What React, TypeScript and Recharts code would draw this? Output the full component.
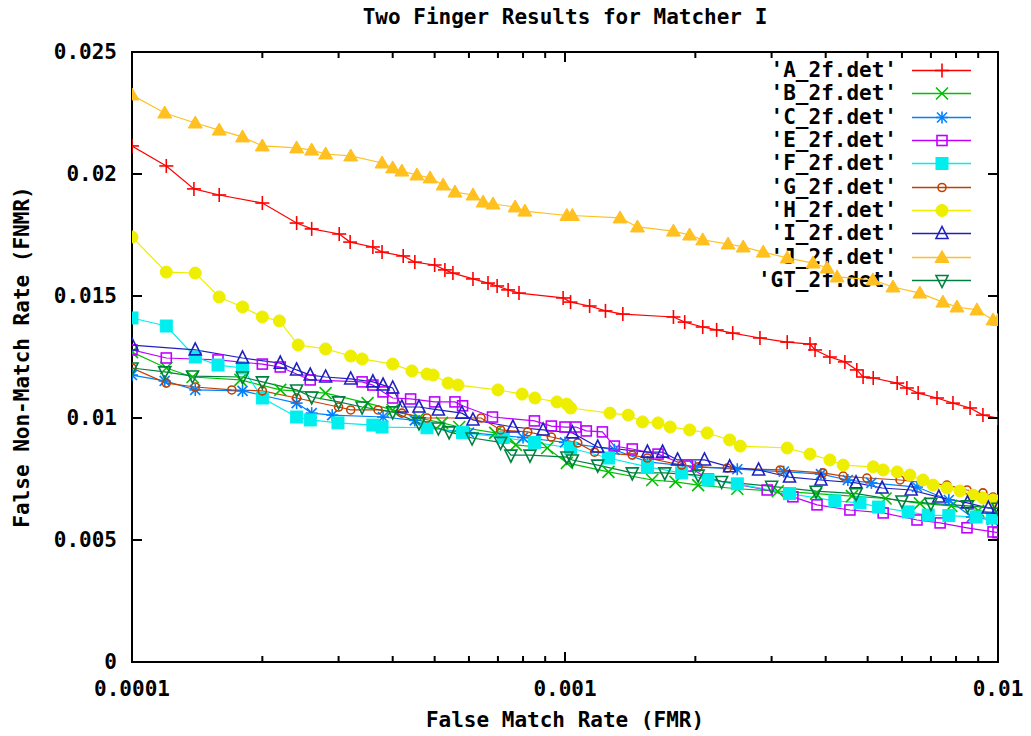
import React from 'react';
import { LineChart, Line, XAxis, YAxis, Legend, Label, ReferenceArea } from 'recharts';

const FONT = '"DejaVu Sans Mono", "Liberation Mono", monospace';

const TITLE = 'Two Finger Results for Matcher I';
const X_LABEL = 'False Match Rate (FMR)';
const Y_LABEL = 'False Non-Match Rate (FNMR)';

const X_DOMAIN: [number, number] = [0.0001, 0.01];
const Y_DOMAIN: [number, number] = [0, 0.025];
const X_MAJOR_TICKS = [0.0001, 0.001, 0.01];
const X_MINOR_TICKS = [
  0.0002, 0.0003, 0.0004, 0.0005, 0.0006, 0.0007, 0.0008, 0.0009,
  0.002, 0.003, 0.004, 0.005, 0.006, 0.007, 0.008, 0.009,
];
const Y_TICKS = [0, 0.005, 0.01, 0.015, 0.02, 0.025];

// [FMR, FNMR]
const A_2F: [number, number][] = [
  [0.0001, 0.02115], [0.00012, 0.02033], [0.000139, 0.01939], [0.000159, 0.01914],
  [0.0002, 0.01881], [0.00024, 0.01799], [0.00026, 0.01775], [0.000301, 0.01754],
  [0.000319, 0.01721], [0.00036, 0.01701], [0.000378, 0.0168], [0.000423, 0.01664],
  [0.00045, 0.01639], [0.0005, 0.01627], [0.000528, 0.01607], [0.000551, 0.01594],
  [0.000613, 0.0157], [0.000664, 0.01553], [0.000697, 0.01541], [0.000739, 0.01525],
  [0.000783, 0.01512], [0.00099, 0.01492], [0.00103, 0.01475], [0.00114, 0.01459],
  [0.00124, 0.01439], [0.00136, 0.01426], [0.00178, 0.01414], [0.00189, 0.01393],
  [0.00208, 0.01373], [0.00224, 0.01361], [0.00244, 0.01348], [0.00282, 0.01328],
  [0.00326, 0.01311], [0.00368, 0.01303], [0.00378, 0.01279], [0.00409, 0.0125],
  [0.00443, 0.0123], [0.00472, 0.01197], [0.00488, 0.01168], [0.00515, 0.01164],
  [0.00585, 0.01143], [0.00616, 0.01123], [0.00654, 0.01102], [0.00723, 0.01082],
  [0.00787, 0.01061], [0.00862, 0.01041], [0.00923, 0.01012], [0.01, 0.01],
];

const B_2F: [number, number][] = [
  [0.0001, 0.0127], [0.00012, 0.01205], [0.000138, 0.01168], [0.000178, 0.01156],
  [0.00022, 0.01115], [0.00028, 0.01102], [0.00035, 0.01061], [0.0004, 0.01033],
  [0.00046, 0.01], [0.00052, 0.0098], [0.00057, 0.00963], [0.00069, 0.00939],
  [0.00077, 0.0089], [0.00091, 0.00877], [0.00101, 0.00816], [0.00126, 0.00779],
  [0.00159, 0.00746], [0.0018, 0.00738], [0.00203, 0.00725], [0.0025, 0.0071],
  [0.0031, 0.007], [0.0038, 0.0069], [0.0046, 0.0068], [0.0055, 0.0067],
  [0.0066, 0.0065], [0.0078, 0.0064], [0.009, 0.0062], [0.01, 0.0061],
];

const C_2F: [number, number][] = [
  [0.0001, 0.01176], [0.000119, 0.01152], [0.00014, 0.01115], [0.00018, 0.01111],
  [0.00024, 0.01061], [0.00026, 0.0102], [0.00029, 0.01012], [0.00038, 0.01004],
  [0.00045, 0.0099], [0.00048, 0.0096], [0.0006, 0.0094], [0.0008, 0.0092],
  [0.001, 0.009], [0.0013, 0.0087], [0.00155, 0.0082], [0.002, 0.008],
  [0.0025, 0.0079], [0.0032, 0.0078], [0.0039, 0.0077], [0.0045, 0.00746],
  [0.0051, 0.00734], [0.0065, 0.00717], [0.0077, 0.00664], [0.0087, 0.00594],
  [0.0097, 0.00582],
];

const E_2F: [number, number][] = [
  [0.0001, 0.01279], [0.00012, 0.01246], [0.000158, 0.01238], [0.0002, 0.01221],
  [0.00022, 0.01209], [0.000258, 0.01156], [0.00034, 0.01148], [0.00036, 0.01135],
  [0.00038, 0.01107], [0.0004, 0.01082], [0.00044, 0.01078], [0.0005, 0.01066],
  [0.000557, 0.01066], [0.00058, 0.0105], [0.00068, 0.01004], [0.00085, 0.00988],
  [0.00093, 0.00967], [0.001, 0.00963], [0.00106, 0.00963], [0.00112, 0.00947],
  [0.00122, 0.00943], [0.0013, 0.00885], [0.00143, 0.00873], [0.00164, 0.00852],
  [0.00192, 0.00803], [0.00214, 0.0075], [0.00293, 0.00705], [0.00336, 0.00677],
  [0.00382, 0.00644], [0.00455, 0.00623], [0.00543, 0.00611], [0.0065, 0.00582],
  [0.00735, 0.0057], [0.00848, 0.0055], [0.00974, 0.00533], [0.01, 0.0053],
];

const F_2F: [number, number][] = [
  [0.0001, 0.0141], [0.00012, 0.01377], [0.00014, 0.0125], [0.000158, 0.01217],
  [0.00018, 0.01205], [0.0002, 0.01082], [0.00024, 0.01004], [0.000258, 0.00992],
  [0.000299, 0.0098], [0.00036, 0.00971], [0.000378, 0.00963], [0.00048, 0.0096],
  [0.00058, 0.0094], [0.00072, 0.0092], [0.00085, 0.009], [0.00103, 0.00877],
  [0.00126, 0.00836], [0.00155, 0.008], [0.00186, 0.00775], [0.00214, 0.00746],
  [0.0025, 0.0073], [0.0033, 0.0069], [0.0042, 0.0066], [0.0048, 0.00652],
  [0.0053, 0.00635], [0.0062, 0.00615], [0.0069, 0.00602], [0.0077, 0.006],
  [0.0089, 0.00594], [0.0097, 0.0059],
];

const G_2F: [number, number][] = [
  [0.0001, 0.01205], [0.00012, 0.01143], [0.00014, 0.01127], [0.00017, 0.01115],
  [0.0002, 0.01111], [0.00024, 0.01082], [0.0003, 0.01045], [0.00032, 0.01033],
  [0.00037, 0.01033], [0.00042, 0.0102], [0.00048, 0.01], [0.00064, 0.01],
  [0.00071, 0.00951], [0.00082, 0.00943], [0.00093, 0.00922], [0.00107, 0.00898],
  [0.00117, 0.0086], [0.00143, 0.00848], [0.00155, 0.00836], [0.00186, 0.00807],
  [0.00203, 0.008], [0.00237, 0.00795], [0.00314, 0.00787], [0.00394, 0.00775],
  [0.00439, 0.00762], [0.00498, 0.00754], [0.00594, 0.00746], [0.00762, 0.00725],
  [0.00848, 0.00705], [0.00923, 0.00693], [0.00974, 0.00676],
];

const H_2F: [number, number][] = [
  [0.0001, 0.01742], [0.00012, 0.01598], [0.00014, 0.01594], [0.000159, 0.01496],
  [0.00018, 0.01455], [0.0002, 0.01414], [0.000219, 0.01398], [0.000242, 0.01299],
  [0.00028, 0.01283], [0.00032, 0.01254], [0.00034, 0.01242], [0.0004, 0.01221],
  [0.000443, 0.01193], [0.00048, 0.0118], [0.000496, 0.01176], [0.000537, 0.01143],
  [0.000566, 0.01135], [0.0007, 0.01115], [0.000796, 0.01098], [0.000852, 0.01082],
  [0.000958, 0.01066], [0.00101, 0.01057], [0.00103, 0.01041], [0.00127, 0.0102],
  [0.0014, 0.01012], [0.00151, 0.00984], [0.00164, 0.0098], [0.00175, 0.00963],
  [0.00194, 0.00951], [0.00213, 0.00939], [0.0024, 0.0091], [0.00254, 0.00885],
  [0.00326, 0.00877], [0.00368, 0.00852], [0.00409, 0.00828], [0.00439, 0.00807],
  [0.00515, 0.008], [0.00543, 0.00787], [0.00585, 0.00779], [0.00626, 0.00766],
  [0.00671, 0.00746], [0.00708, 0.00725], [0.00762, 0.00713], [0.00817, 0.00701],
  [0.00876, 0.00684], [0.00923, 0.00672], [0.00974, 0.00664], [0.01, 0.0066],
];

const I_2F: [number, number][] = [
  [0.0001, 0.01299], [0.00014, 0.01279], [0.00018, 0.01246], [0.00022, 0.01225],
  [0.00024, 0.01197], [0.000258, 0.01176], [0.00028, 0.01168], [0.00032, 0.0116],
  [0.00036, 0.01148], [0.00038, 0.01135], [0.0004, 0.01123], [0.00042, 0.01045],
  [0.00046, 0.01045], [0.00051, 0.01033], [0.000578, 0.0102], [0.000613, 0.00992],
  [0.000758, 0.00963], [0.00089, 0.00951], [0.00104, 0.00939], [0.00119, 0.00881],
  [0.00155, 0.0086], [0.00168, 0.0086], [0.00182, 0.00828], [0.0021, 0.00828],
  [0.0024, 0.008], [0.0028, 0.00787], [0.0033, 0.00758], [0.0039, 0.00746],
  [0.0047, 0.00734], [0.0054, 0.00713], [0.0063, 0.00705], [0.0073, 0.00676],
  [0.0085, 0.00652], [0.0095, 0.00631], [0.01, 0.0063],
];

const J_2F: [number, number][] = [
  [0.0001, 0.02324], [0.000119, 0.0225], [0.00014, 0.02209], [0.000159, 0.0218],
  [0.00018, 0.02152], [0.0002, 0.02115], [0.00024, 0.02107], [0.00026, 0.02098],
  [0.00028, 0.02082], [0.00032, 0.02074], [0.000378, 0.02045], [0.0004, 0.02025],
  [0.00042, 0.02012], [0.000455, 0.01996], [0.000488, 0.01984], [0.000523, 0.01955],
  [0.000557, 0.01926], [0.000613, 0.01914], [0.000647, 0.01885], [0.000682, 0.01877],
  [0.000767, 0.01865], [0.000808, 0.01848], [0.00101, 0.0183], [0.00104, 0.0183],
  [0.00134, 0.0182], [0.00147, 0.01783], [0.00178, 0.01766], [0.00194, 0.0175],
  [0.00208, 0.0173], [0.00238, 0.01713], [0.00258, 0.01701], [0.00287, 0.0168],
  [0.00326, 0.01656], [0.00374, 0.01635], [0.00403, 0.01615], [0.00425, 0.01578],
  [0.00514, 0.01566], [0.00572, 0.01537], [0.0066, 0.01512], [0.00746, 0.01475],
  [0.00804, 0.01455], [0.00894, 0.01443], [0.00974, 0.01402], [0.01, 0.014],
];

const GT_2F: [number, number][] = [
  [0.0001, 0.01205], [0.000119, 0.01189], [0.000138, 0.01172], [0.00018, 0.01168],
  [0.0002, 0.01148], [0.00024, 0.01115], [0.00026, 0.01086], [0.0003, 0.01066],
  [0.00034, 0.01045], [0.0004, 0.01025], [0.00046, 0.0098], [0.00051, 0.00959],
  [0.00054, 0.00943], [0.00061, 0.00918], [0.00071, 0.009], [0.00075, 0.00848],
  [0.00083, 0.00848], [0.00101, 0.0084], [0.00104, 0.00828], [0.00119, 0.00807],
  [0.00143, 0.00775], [0.0017, 0.00775], [0.00203, 0.00766], [0.0023, 0.0074],
  [0.003, 0.0072], [0.0038, 0.007], [0.0047, 0.0069], [0.006, 0.0066],
  [0.007, 0.0065], [0.0085, 0.0064], [0.01, 0.0063],
];

type MarkerKind = 'plus' | 'cross' | 'star' | 'box' | 'fbox' | 'circle' | 'fcircle' | 'tri' | 'ftri' | 'itri';

interface SeriesDef {
  id: string;
  name: string;
  color: string;
  marker: MarkerKind;
  points: [number, number][];
}

const SERIES: SeriesDef[] = [
  { id: 'A', name: "'A_2f.det'", color: '#ff0000', marker: 'plus', points: A_2F },
  { id: 'B', name: "'B_2f.det'", color: '#00c000', marker: 'cross', points: B_2F },
  { id: 'C', name: "'C_2f.det'", color: '#0080ff', marker: 'star', points: C_2F },
  { id: 'E', name: "'E_2f.det'", color: '#c000ff', marker: 'box', points: E_2F },
  { id: 'F', name: "'F_2f.det'", color: '#00eeee', marker: 'fbox', points: F_2F },
  { id: 'G', name: "'G_2f.det'", color: '#c04000', marker: 'circle', points: G_2F },
  { id: 'H', name: "'H_2f.det'", color: '#eeee00', marker: 'fcircle', points: H_2F },
  { id: 'I', name: "'I_2f.det'", color: '#2020c0', marker: 'tri', points: I_2F },
  { id: 'J', name: "'J_2f.det'", color: '#ffc020', marker: 'ftri', points: J_2F },
  { id: 'GT', name: "'GT_2f.det'", color: '#008040', marker: 'itri', points: GT_2F },
];

// chart layout (pixels)
const CHART_W = 1031;
const CHART_H = 736;
const MARGIN = { top: 52, right: 33, bottom: 0, left: 0 };
const Y_AXIS_W = 132;
const X_AXIS_H = 74;
const PLOT_W = CHART_W - MARGIN.left - MARGIN.right - Y_AXIS_W;
const PLOT_H = CHART_H - MARGIN.top - MARGIN.bottom - X_AXIS_H;
const MAJOR_LEN = 10;
const MINOR_LEN = 6;
const X_TICK_SIZE = 6;
const X_TICK_MARGIN = 13;
const Y_TICK_SIZE = 6;
const Y_TICK_MARGIN = 9;

function Marker({ kind, color, cx, cy }: { kind: MarkerKind; color: string; cx: number; cy: number }) {
  if (cx == null || cy == null || isNaN(cx) || isNaN(cy)) return null;
  const s = 6;
  const sw = 1.6;
  switch (kind) {
    case 'plus':
      return (
        <g stroke={color} strokeWidth={sw}>
          <line x1={cx - s - 1} y1={cy} x2={cx + s + 1} y2={cy} />
          <line x1={cx} y1={cy - s - 1} x2={cx} y2={cy + s + 1} />
        </g>
      );
    case 'cross':
      return (
        <g stroke={color} strokeWidth={sw}>
          <line x1={cx - s} y1={cy - s} x2={cx + s} y2={cy + s} />
          <line x1={cx - s} y1={cy + s} x2={cx + s} y2={cy - s} />
        </g>
      );
    case 'star':
      return (
        <g stroke={color} strokeWidth={sw}>
          <line x1={cx - s} y1={cy} x2={cx + s} y2={cy} />
          <line x1={cx} y1={cy - s} x2={cx} y2={cy + s} />
          <line x1={cx - s + 1} y1={cy - s + 1} x2={cx + s - 1} y2={cy + s - 1} />
          <line x1={cx - s + 1} y1={cy + s - 1} x2={cx + s - 1} y2={cy - s + 1} />
        </g>
      );
    case 'box':
      return <rect x={cx - 5} y={cy - 5} width={10} height={10} fill="none" stroke={color} strokeWidth={sw} />;
    case 'fbox':
      return <rect x={cx - 6} y={cy - 6} width={12} height={12} fill={color} stroke={color} strokeWidth={1} />;
    case 'circle':
      return <circle cx={cx} cy={cy} r={4} fill="none" stroke={color} strokeWidth={sw} />;
    case 'fcircle':
      return <circle cx={cx} cy={cy} r={6} fill={color} stroke={color} strokeWidth={1} />;
    case 'tri':
      return (
        <polygon
          points={`${cx},${cy - 7} ${cx - 6},${cy + 5} ${cx + 6},${cy + 5}`}
          fill="none"
          stroke={color}
          strokeWidth={sw}
        />
      );
    case 'ftri':
      return (
        <polygon
          points={`${cx},${cy - 7} ${cx - 7},${cy + 5} ${cx + 7},${cy + 5}`}
          fill={color}
          stroke={color}
          strokeWidth={1}
        />
      );
    case 'itri':
      return (
        <polygon
          points={`${cx},${cy + 7} ${cx - 6},${cy - 5} ${cx + 6},${cy - 5}`}
          fill="none"
          stroke={color}
          strokeWidth={sw}
        />
      );
    default:
      return null;
  }
}

function LegendBox() {
  return (
    <div style={{ fontFamily: FONT, fontWeight: 700, fontSize: 21, color: '#000' }}>
      {SERIES.map((s) => (
        <div key={s.id} style={{ display: 'flex', alignItems: 'center', height: 23.33 }}>
          <span style={{ width: 197, textAlign: 'right', whiteSpace: 'pre', lineHeight: '23px' }}>{s.name}</span>
          <svg width={74} height={23} style={{ display: 'block' }}>
            <line x1={15} y1={11.5} x2={74} y2={11.5} stroke={s.color} strokeWidth={1.4} />
            <Marker kind={s.marker} color={s.color} cx={45} cy={11.5} />
          </svg>
        </div>
      ))}
    </div>
  );
}

const labelFont = { fontFamily: FONT, fontWeight: 700, fontSize: 21 };
const isMajorX = (v: number) => X_MAJOR_TICKS.some((m) => Math.abs(m - v) < m * 1e-6);

// X tick: label (majors) plus inward tick marks on bottom and top edges
function XTick(props: any) {
  const { x, y, payload } = props;
  const v = payload?.value as number;
  const major = isMajorX(v);
  const len = major ? MAJOR_LEN : MINOR_LEN;
  const axisY = y - X_TICK_SIZE - X_TICK_MARGIN;
  const topY = axisY - PLOT_H;
  return (
    <g>
      <path d={`M${x},${axisY}V${axisY - len}M${x},${topY}V${topY + len}`} stroke="#000" strokeWidth={2} fill="none" />
      {major && (
        <text x={x} y={y} dy="0.71em" textAnchor="middle" fill="#000" stroke="none" style={labelFont}>
          {String(v)}
        </text>
      )}
    </g>
  );
}

// Y tick: label plus inward tick marks on left and right edges
function YTick(props: any) {
  const { x, y, payload } = props;
  const v = payload?.value as number;
  const axisX = x + Y_TICK_SIZE + Y_TICK_MARGIN;
  const rightX = axisX + PLOT_W;
  return (
    <g>
      <path
        d={`M${axisX},${y}H${axisX + MAJOR_LEN}M${rightX},${y}H${rightX - MAJOR_LEN}`}
        stroke="#000"
        strokeWidth={2}
        fill="none"
      />
      <text x={x} y={y} dy="0.355em" textAnchor="end" fill="#000" stroke="none" style={labelFont}>
        {String(v)}
      </text>
    </g>
  );
}

export default function App() {
  return (
    <div style={{ position: 'absolute', left: 0, top: 0, width: CHART_W, height: CHART_H }}>
      <div
        style={{
          position: 'absolute',
          left: Y_AXIS_W,
          top: 4,
          width: PLOT_W,
          textAlign: 'center',
          fontFamily: FONT,
          fontWeight: 700,
          fontSize: 21,
          lineHeight: '26px',
          color: '#000',
          whiteSpace: 'pre',
        }}
      >
        {TITLE}
      </div>
      <LineChart width={CHART_W} height={CHART_H} margin={MARGIN}>
        <XAxis
          xAxisId="x"
          type="number"
          dataKey="x"
          scale="log"
          domain={X_DOMAIN}
          allowDataOverflow
          ticks={[...X_MAJOR_TICKS, ...X_MINOR_TICKS]}
          tickLine={false}
          tickSize={X_TICK_SIZE}
          tickMargin={X_TICK_MARGIN}
          height={X_AXIS_H}
          axisLine={false}
          tick={<XTick />}
          interval={0}
        >
          <Label
            content={(props: any) => {
              const vb = props.viewBox || { x: Y_AXIS_W, y: MARGIN.top + PLOT_H, width: PLOT_W };
              return (
                <text x={vb.x + vb.width / 2} y={vb.y + 65} textAnchor="middle" style={labelFont} fill="#000">
                  {X_LABEL}
                </text>
              );
            }}
          />
        </XAxis>
        <YAxis
          yAxisId="y"
          type="number"
          domain={Y_DOMAIN}
          allowDataOverflow
          ticks={Y_TICKS}
          tickLine={false}
          tickSize={Y_TICK_SIZE}
          tickMargin={Y_TICK_MARGIN}
          width={Y_AXIS_W}
          interval={0}
          axisLine={false}
          tick={<YTick />}
        >
          <Label
            content={(props: any) => {
              const vb = props.viewBox || { x: 0, y: MARGIN.top, width: Y_AXIS_W, height: PLOT_H };
              const cy = vb.y + vb.height / 2;
              return (
                <text
                  x={29}
                  y={cy}
                  textAnchor="middle"
                  transform={`rotate(-90, 29, ${cy})`}
                  style={labelFont}
                  fill="#000"
                >
                  {Y_LABEL}
                </text>
              );
            }}
          />
        </YAxis>
        <ReferenceArea
          xAxisId="x"
          yAxisId="y"
          x1={X_DOMAIN[0]}
          x2={X_DOMAIN[1]}
          y1={Y_DOMAIN[0]}
          y2={Y_DOMAIN[1]}
          fill="none"
          fillOpacity={0}
          stroke="#000"
          strokeWidth={2}
          ifOverflow="visible"
        />
        <Legend
          layout="horizontal"
          verticalAlign="middle"
          align="center"
          wrapperStyle={{ position: 'absolute', left: 700, top: 59, width: 280, height: 235, zIndex: -1 }}
          content={() => <LegendBox />}
        />
        {SERIES.map((s) => (
          <Line
            key={s.id}
            xAxisId="x"
            yAxisId="y"
            type="linear"
            name={s.name}
            data={s.points.map(([x, y]) => ({ x, y }))}
            dataKey="y"
            stroke={s.color}
            strokeWidth={1.2}
            isAnimationActive={false}
            dot={(p: any) => (
              <Marker key={`${s.id}-${p.index}`} kind={s.marker} color={s.color} cx={p.cx} cy={p.cy} />
            )}
            activeDot={false}
            legendType="none"
          />
        ))}
      </LineChart>
    </div>
  );
}
